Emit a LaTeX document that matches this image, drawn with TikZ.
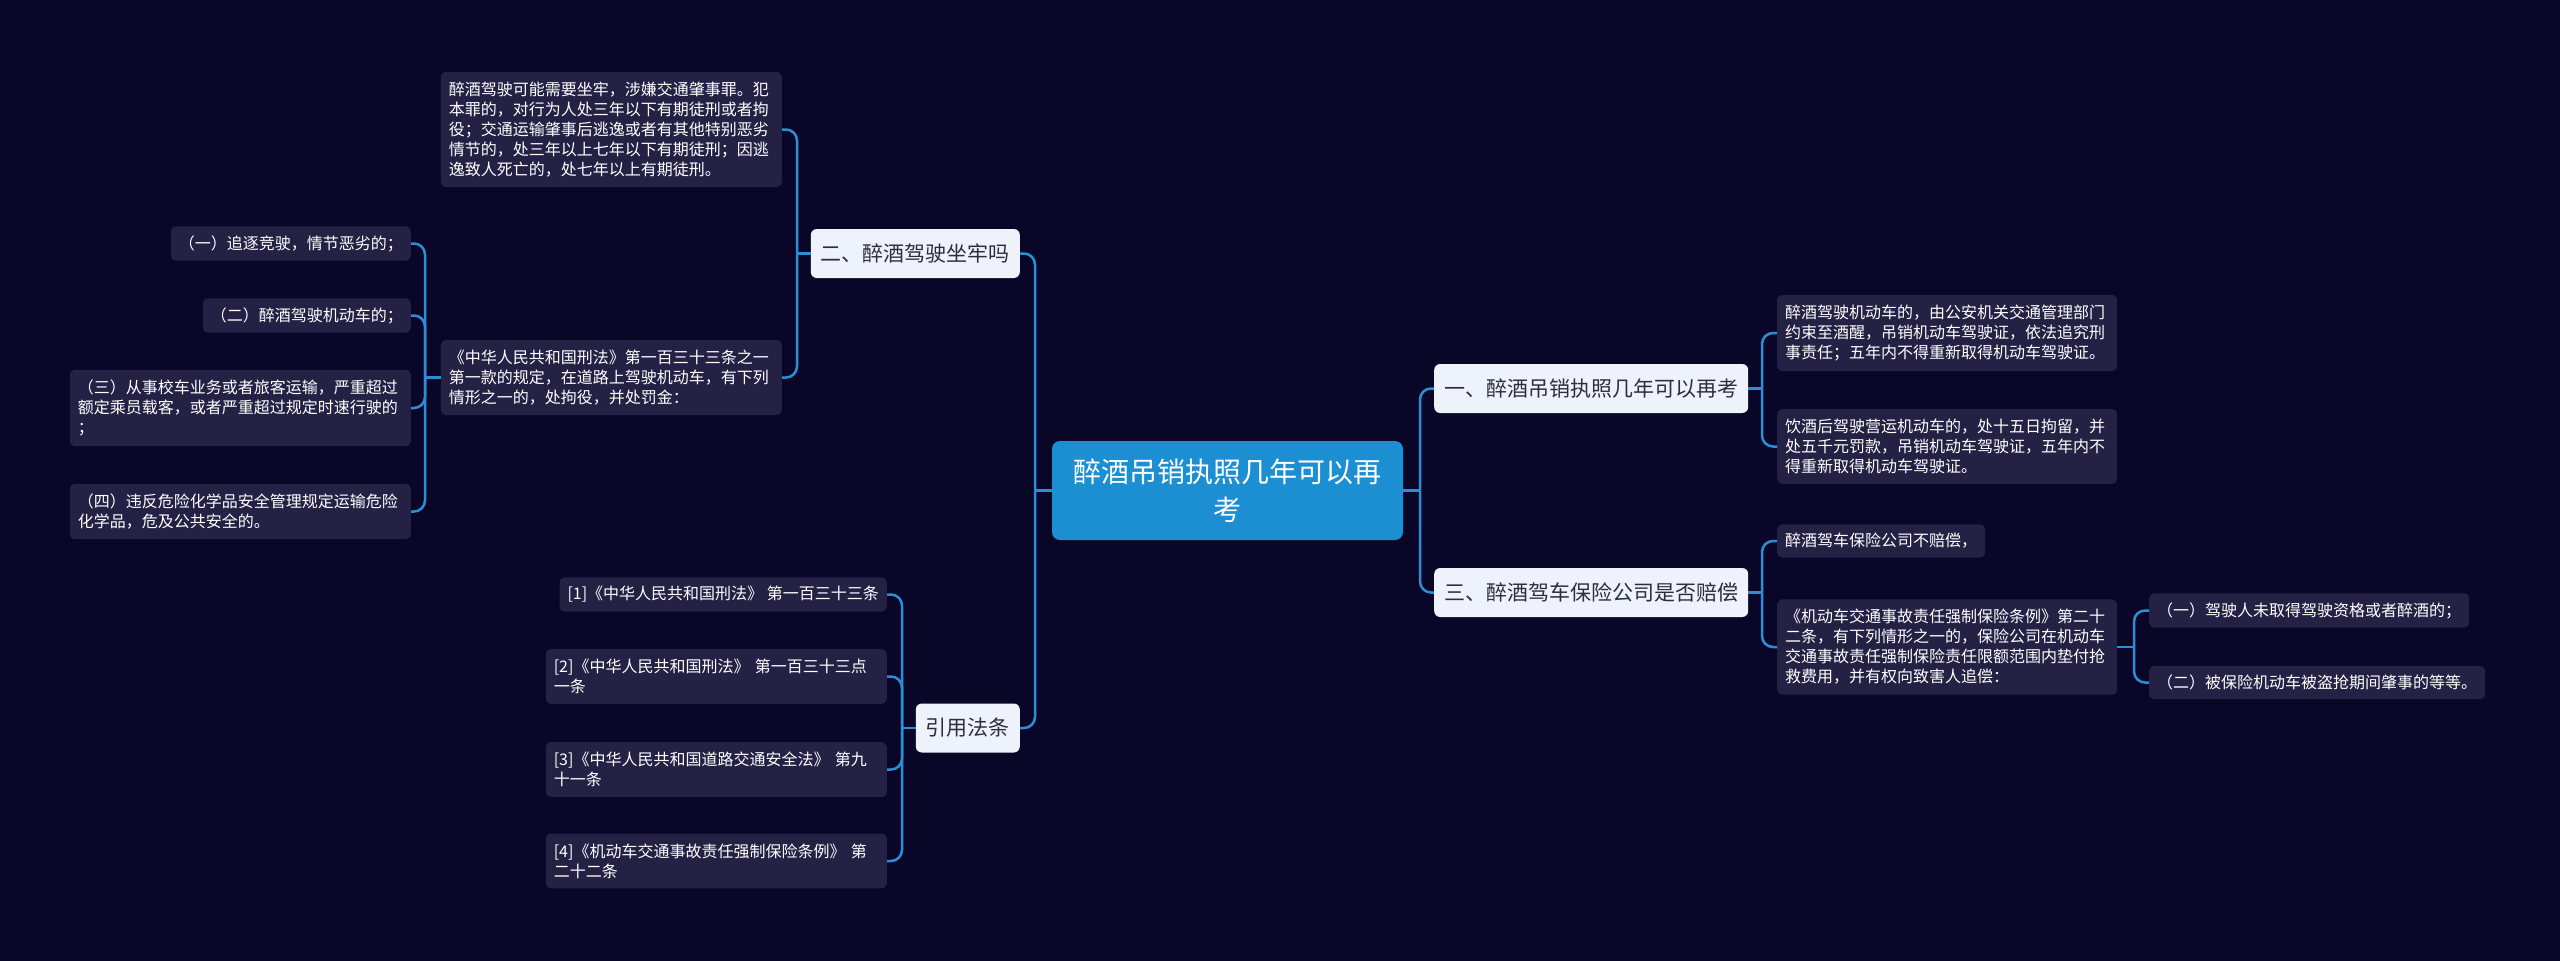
\documentclass[tikz,border=0pt]{standalone}
\usepackage{fontspec}
\setmainfont{Noto Sans CJK SC}
\definecolor{bgc}{HTML}{0A0628}
\definecolor{linec}{HTML}{2B8FD8}
\definecolor{leafc}{HTML}{252145}
\definecolor{branchc}{HTML}{EEF3FB}
\definecolor{rootc}{HTML}{1B8FD2}
\definecolor{btext}{HTML}{2E2E3A}
\begin{document}
\begin{tikzpicture}[x=1pt,y=-1pt,
 rootbox/.style={fill=rootc, rounded corners=8pt, text=white, font=\fontsize{28}{38}\selectfont, minimum width=351pt, minimum height=99pt, align=center, inner sep=0pt},
 branchbox/.style={fill=branchc, rounded corners=6pt, text=btext, font=\fontsize{21}{25}\selectfont, inner xsep=10pt, inner ysep=0pt, minimum height=49pt},
 leafbox/.style={fill=leafc, rounded corners=5pt, text=white, font=\fontsize{16}{20}\selectfont, inner xsep=8pt, inner ysep=9pt, align=left},
 multibox/.style={leafbox, text width=324pt, inner ysep=10pt},
 conn/.style={draw=linec, line width=2.5pt, rounded corners=11pt},
]
\fill[bgc] (0,0) rectangle (2560,961);

% root
\node[rootbox] (root) at (1227.5,490.5) {醉酒吊销执照几年可以再\\考};

% branches
\node[branchbox, anchor=west] (b1) at (1434,388.5) {一、醉酒吊销执照几年可以再考};
\node[branchbox, anchor=west] (b3) at (1434,592.5) {三、醉酒驾车保险公司是否赔偿};
\node[branchbox, anchor=east] (b2) at (1020,253.5) {二、醉酒驾驶坐牢吗};
\node[branchbox, anchor=east] (b4) at (1020,728) {引用法条};

% right leaves
\node[multibox, anchor=west] (l1a) at (1777,333) {醉酒驾驶机动车的，由公安机关交通管理部门\\约束至酒醒，吊销机动车驾驶证，依法追究刑\\事责任；五年内不得重新取得机动车驾驶证。};
\node[multibox, anchor=west] (l1b) at (1777,446.5) {饮酒后驾驶营运机动车的，处十五日拘留，并\\处五千元罚款，吊销机动车驾驶证，五年内不\\得重新取得机动车驾驶证。};
\node[leafbox, anchor=west] (l3a) at (1777,541) {醉酒驾车保险公司不赔偿，};
\node[multibox, anchor=west] (l3b) at (1777,647) {《机动车交通事故责任强制保险条例》第二十\\二条，有下列情形之一的，保险公司在机动车\\交通事故责任强制保险责任限额范围内垫付抢\\救费用，并有权向致害人追偿：};
\node[leafbox, anchor=west] (d1) at (2149,610.5) {（一）驾驶人未取得驾驶资格或者醉酒的；};
\node[leafbox, anchor=west] (d2) at (2149,682.5) {（二）被保险机动车被盗抢期间肇事的等等。};

% left leaves
\node[multibox, anchor=east, text width=325pt] (l2a) at (782,129.5) {醉酒驾驶可能需要坐牢，涉嫌交通肇事罪。犯\\本罪的，对行为人处三年以下有期徒刑或者拘\\役；交通运输肇事后逃逸或者有其他特别恶劣\\情节的，处三年以上七年以下有期徒刑；因逃\\逸致人死亡的，处七年以上有期徒刑。};
\node[multibox, anchor=east, text width=325pt] (l2b) at (782,377.5) {《中华人民共和国刑法》第一百三十三条之一\\第一款的规定，在道路上驾驶机动车，有下列\\情形之一的，处拘役，并处罚金：};
\node[leafbox, anchor=east] (c1) at (411,243.5) {（一）追逐竞驶，情节恶劣的；};
\node[leafbox, anchor=east] (c2) at (411,315.5) {（二）醉酒驾驶机动车的；};
\node[multibox, anchor=east, text width=325pt] (c3) at (411,408) {（三）从事校车业务或者旅客运输，严重超过\\额定乘员载客，或者严重超过规定时速行驶的\\；};
\node[multibox, anchor=east, text width=325pt] (c4) at (411,511.5) {（四）违反危险化学品安全管理规定运输危险\\化学品，危及公共安全的。};

\node[leafbox, anchor=east] (r1) at (887,594.5) {[1]《中华人民共和国刑法》 第一百三十三条};
\node[multibox, anchor=east, text width=325pt] (r2) at (887,676.5) {[2]《中华人民共和国刑法》 第一百三十三点\\一条};
\node[multibox, anchor=east, text width=325pt] (r3) at (887,769.5) {[3]《中华人民共和国道路交通安全法》 第九\\十一条};
\node[multibox, anchor=east, text width=325pt] (r4) at (887,861) {[4]《机动车交通事故责任强制保险条例》 第\\二十二条};

% junctions
\coordinate (jR) at (1420,490.5);
\coordinate (jL) at (1035,490.5);
\coordinate (j1) at (1762,388.5);
\coordinate (j3) at (1762,592.5);
\coordinate (j3b) at (2134,647);
\coordinate (j2) at (797,253.5);
\coordinate (j2b) at (425,377.5);
\coordinate (j4) at (902,728);

% connectors
\draw[conn] (root.east) -- (jR);
\draw[conn] (jR) |- (b1.west);
\draw[conn] (jR) |- (b3.west);
\draw[conn] (root.west) -- (jL);
\draw[conn] (jL) |- (b2.east);
\draw[conn] (jL) |- (b4.east);

\draw[conn] (b1.east) -- (j1);
\draw[conn] (j1) |- (l1a.west);
\draw[conn] (j1) |- (l1b.west);

\draw[conn] (b3.east) -- (j3);
\draw[conn] (j3) |- (l3a.west);
\draw[conn] (j3) |- (l3b.west);

\draw[conn] (l3b.east) -- (j3b);
\draw[conn] (j3b) |- (d1.west);
\draw[conn] (j3b) |- (d2.west);

\draw[conn] (b2.west) -- (j2);
\draw[conn] (j2) |- (l2a.east);
\draw[conn] (j2) |- (l2b.east);

\draw[conn] (l2b.west) -- (j2b);
\draw[conn] (j2b) |- (c1.east);
\draw[conn] (j2b) |- (c2.east);
\draw[conn] (j2b) |- (c3.east);
\draw[conn] (j2b) |- (c4.east);

\draw[conn] (b4.west) -- (j4);
\draw[conn] (j4) |- (r1.east);
\draw[conn] (j4) |- (r2.east);
\draw[conn] (j4) |- (r3.east);
\draw[conn] (j4) |- (r4.east);
\end{tikzpicture}
\end{document}
